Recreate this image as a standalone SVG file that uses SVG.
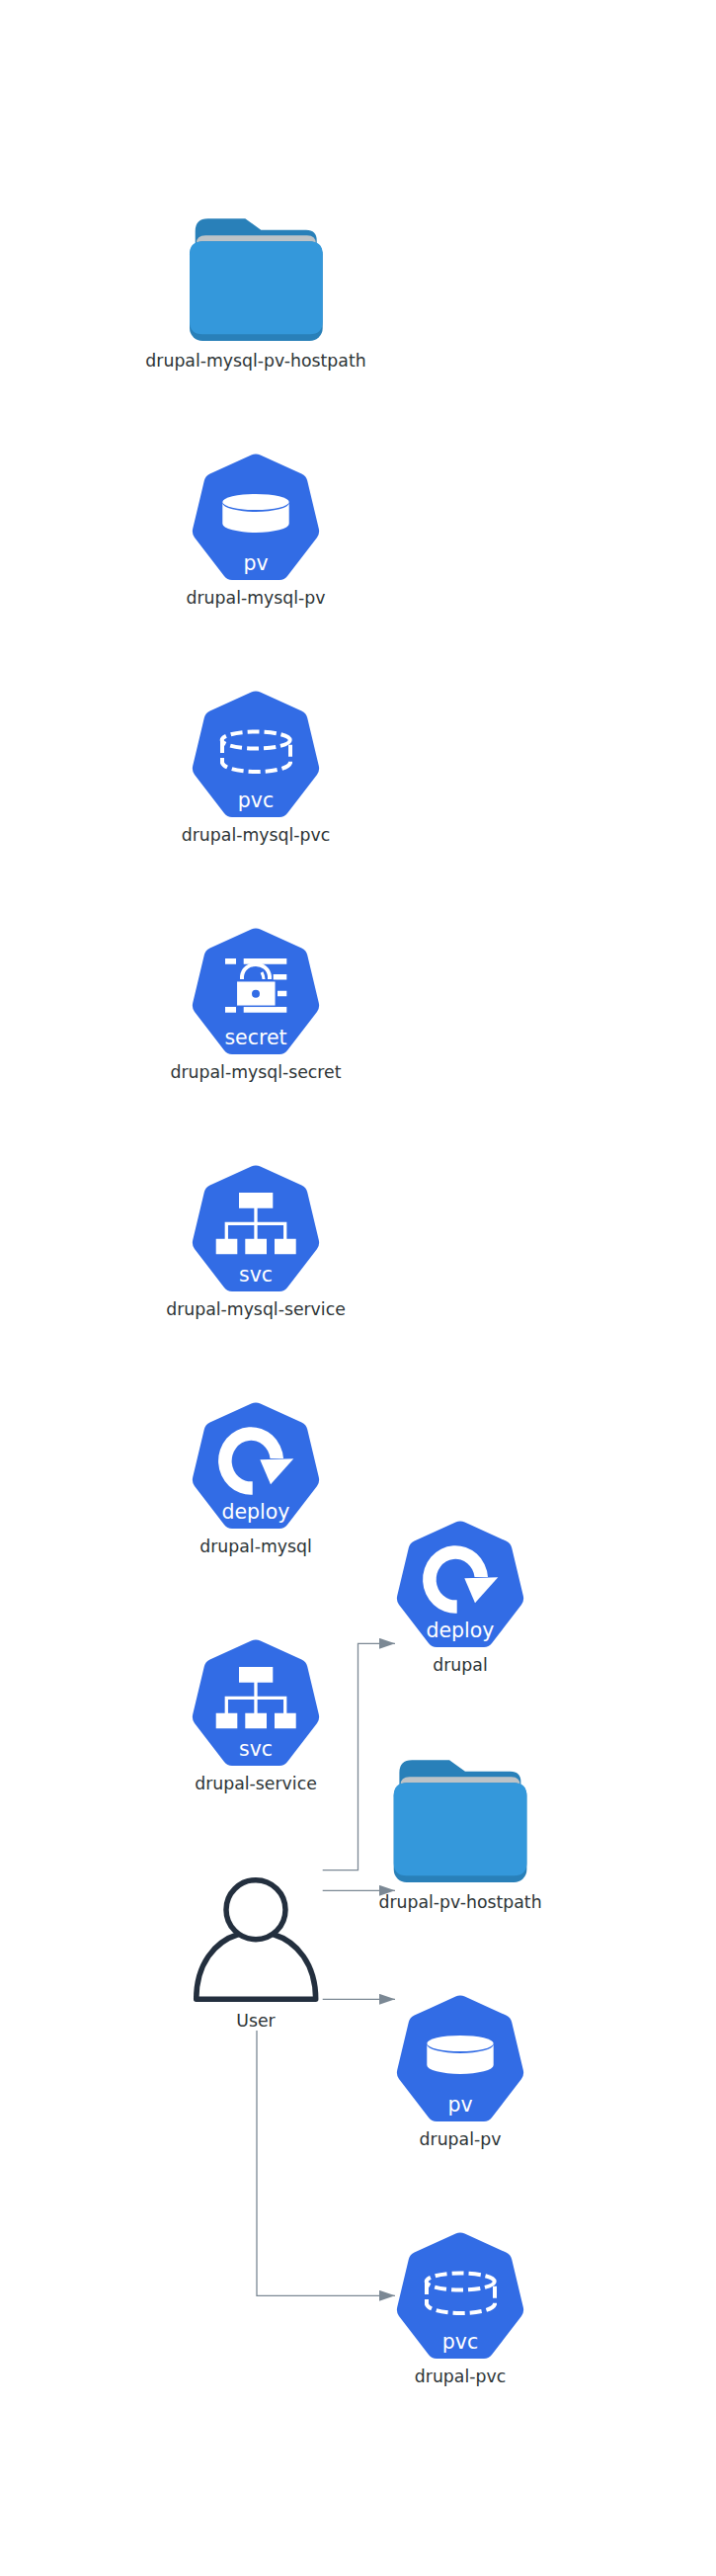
<svg xmlns="http://www.w3.org/2000/svg" xmlns:xlink="http://www.w3.org/1999/xlink" width="725" height="2607" viewBox="0 0 725 2607">
<style>
text{font-family:"DejaVu Sans",sans-serif}
.l{font-size:17.3px;fill:#2d3436;text-anchor:middle}
.k{font-size:20.5px;fill:#fff;text-anchor:middle}
.c{fill:none;stroke:#7b8894;stroke-width:1.3}
</style>
<defs>
<marker id="a" markerUnits="userSpaceOnUse" markerWidth="16" markerHeight="11" refX="16" refY="5.500" orient="auto"><path d="M0 0L16 5.500L0 11Z" fill="#7b8894"/></marker>
<path id="h" fill="#326ce5" d="M263.600 460.600L305.400 479.600Q310 481.700 311.200 486.600L322.800 535.100Q324 540 321 544L291 583Q288 587 283 587H235Q230 587 227 583L197 544Q194 540 195.200 535.100L206.800 486.600Q208 481.700 212.600 479.600L254.400 460.600Q259 458.500 263.600 460.600Z"/>
<g id="f"><path d="M197.700 245V234Q197.700 221.300 210.500 221.300H248.300L264.300 232.700H310Q320.700 232.700 320.700 243.300V270H197.700Z" fill="#2980b9"/><path d="M199 250V246Q199 238.300 208 238.300H311Q320 238.300 320 247V250Z" fill="#bdc3c7"/><rect x="192" y="244.300" width="134.700" height="100.700" rx="13" fill="#2980b9"/><path d="M192 257.300Q192 244.300 205 244.300H313.700Q326.700 244.300 326.700 257.300V325.300Q326.700 338.300 313.700 338.300H205Q192 338.300 192 325.300Z" fill="#3498db"/></g>
<g id="pv"><use xlink:href="#h" href="#h"/><path d="M225.300 509A33.700 9 0 0 0 292.700 509V530A33.700 9 0 0 1 225.300 530Z" fill="#fff"/><ellipse cx="259" cy="508" rx="33.700" ry="8" fill="#fff"/></g>
<g id="pvc"><use xlink:href="#h" href="#h"/><g fill="none" stroke="#fff" stroke-width="4" stroke-dasharray="12 5"><ellipse cx="259.200" cy="509" rx="34.500" ry="8.500"/><path d="M225 510V532C229 544 290 544 294 532V510"/></g></g>
<g id="sec"><use xlink:href="#h" href="#h"/><path fill="#fff" d="M228 490h11v5.700h-11zM246.700 490h43.600v5.700h-43.600zM276.700 506h13.600v5.500h-13.600zM281 522.700h9.300v5.600h-9.300zM228 539h11v5.700h-11zM246.700 539h43.600v5.700h-43.600z"/><path d="M245 511V508C247 492 271 492 273 508V511" fill="none" stroke="#fff" stroke-width="4"/><path d="M265 504C266 506 267 508 267 511" fill="none" stroke="#fff" stroke-width="3"/><rect x="239.300" y="512.700" width="40" height="25.600" fill="#fff" stroke="#326ce5" stroke-width="1.500"/><circle cx="259" cy="525.700" r="4" fill="#326ce5"/></g>
<g id="svc"><use xlink:href="#h" href="#h"/><path fill="#fff" d="M242 487h34.300v15.700h-34.300zM218.700 533.700h21.600v15.600h-21.600zM248.300 533.700h21.700v15.600h-21.700zM278 533.700h21.700v15.600h-21.700z"/><path d="M259 502V534M229.300 534V518.300H288.700V534" fill="none" stroke="#fff" stroke-width="3.300"/></g>
<g id="dep"><use xlink:href="#h" href="#h"/><path d="M255.700 552.700A33 34.300 0 1 1 287 516L273.500 516A19.500 20.800 0 1 0 255.700 539.300Z" fill="#fff"/><path d="M263.300 517.300L297.300 516.300L274 542.300Z" fill="#fff"/></g>
</defs>
<g id="connectors">
<path class="c" d="M326.700 1892.700H362.500V1663.300H400" marker-end="url(#a)"/>
<path class="c" d="M326.700 1913.300H400" marker-end="url(#a)"/>
<path class="c" d="M326.700 2023.300H400" marker-end="url(#a)"/>
<path class="c" d="M260 2055V2323.300H400" marker-end="url(#a)"/>
</g>
<g id="drupal-mysql-pv-hostpath"><use xlink:href="#f" href="#f"/><text class="l" x="259" y="370.500">drupal-mysql-pv-hostpath</text></g>
<g id="drupal-mysql-pv"><use xlink:href="#pv" href="#pv"/><text class="k" x="259" y="576.500">pv</text><text class="l" x="259" y="610.500">drupal-mysql-pv</text></g>
<g id="drupal-mysql-pvc"><use xlink:href="#pvc" href="#pvc" y="240"/><text class="k" x="259" y="816.500">pvc</text><text class="l" x="259" y="850.500">drupal-mysql-pvc</text></g>
<g id="drupal-mysql-secret"><use xlink:href="#sec" href="#sec" y="480"/><text class="k" x="259" y="1056.500">secret</text><text class="l" x="259" y="1090.500">drupal-mysql-secret</text></g>
<g id="drupal-mysql-service"><use xlink:href="#svc" href="#svc" y="720"/><text class="k" x="259" y="1296.500">svc</text><text class="l" x="259" y="1330.500">drupal-mysql-service</text></g>
<g id="drupal-mysql"><use xlink:href="#dep" href="#dep" y="960"/><text class="k" x="259" y="1536.500">deploy</text><text class="l" x="259" y="1570.500">drupal-mysql</text></g>
<g id="drupal-service"><use xlink:href="#svc" href="#svc" y="1200"/><text class="k" x="259" y="1776.500">svc</text><text class="l" x="259" y="1810.500">drupal-service</text></g>
<g id="user"><circle cx="259" cy="1932.700" r="30" fill="none" stroke="#232f3e" stroke-width="5.500"/><path d="M241.500 1957.500C217 1965 198.700 1988 198.700 2023.300H319.700C319.700 1988 301 1965 276.500 1957.500" fill="none" stroke="#232f3e" stroke-width="5.500" stroke-linejoin="round"/><text class="l" x="259" y="2050.500">User</text></g>
<g id="drupal"><use xlink:href="#dep" href="#dep" x="207" y="1080"/><text class="k" x="466" y="1656.500">deploy</text><text class="l" x="466" y="1690.500">drupal</text></g>
<g id="drupal-pv-hostpath"><use xlink:href="#f" href="#f" x="206.700" y="1560"/><text class="l" x="466" y="1930.500">drupal-pv-hostpath</text></g>
<g id="drupal-pv"><use xlink:href="#pv" href="#pv" x="207" y="1560"/><text class="k" x="466" y="2136.500">pv</text><text class="l" x="466" y="2170.500">drupal-pv</text></g>
<g id="drupal-pvc"><use xlink:href="#pvc" href="#pvc" x="207" y="1800"/><text class="k" x="466" y="2376.500">pvc</text><text class="l" x="466" y="2410.500">drupal-pvc</text></g>
</svg>
